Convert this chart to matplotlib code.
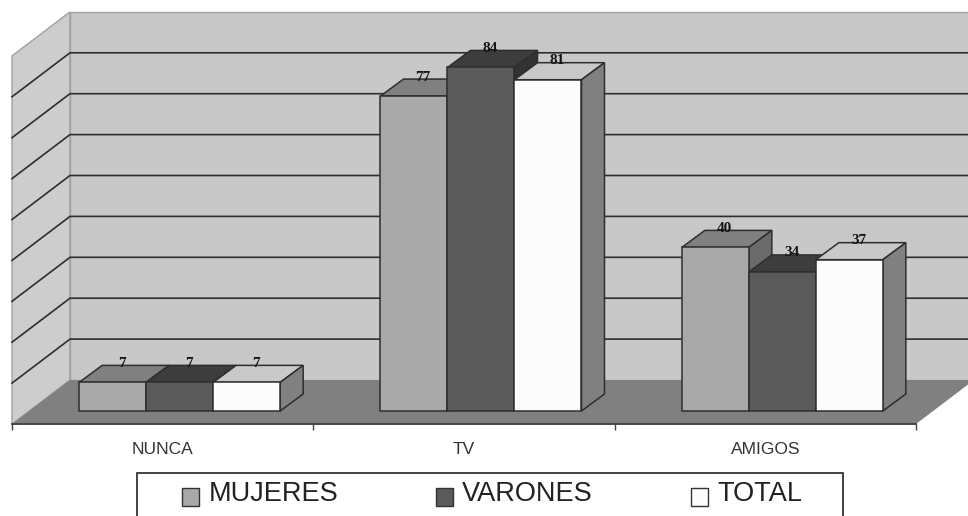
import numpy as np
import matplotlib
matplotlib.use('Agg')
import matplotlib.pyplot as plt
from matplotlib.patches import Patch, Polygon, Rectangle

categories = ['NUNCA', 'TV', 'AMIGOS']
mujeres = [7, 77, 40]
varones = [7, 84, 34]
total = [7, 81, 37]
series_names = ['MUJERES', 'VARONES', 'TOTAL']
grid_values = [10, 20, 30, 40, 50, 60, 70, 80]
y_max = 90

# (front, top, side) greys for each series
shades = [('#a9a9a9', '#808080', '#6b6b6b'),
          ('#5a5a5a', '#3d3d3d', '#333333'),
          ('#fcfcfc', '#c9c9c9', '#808080')]

# scale of the picture: pixels per category and per unit of value
px_x = 301.33
px_y = 4.09
wall_dx = 58 / px_x
wall_dy = 44 / px_y
floor_dx = 17 / px_x
floor_dy = 13 / px_y
bar_dx = 23 / px_x
bar_dy = 17 / px_y
bar_w = 67 / px_x
line_c = '#2e2e2e'

plt.rcParams['font.family'] = ['Liberation Sans', 'DejaVu Sans']
fig = plt.figure(figsize=(9.68, 5.16), dpi=100)
ax = fig.add_axes([0, 0, 1, 1])
ax.set_xlim(-12 / px_x, 956 / px_x)
ax.set_ylim(-92 / px_y, 424 / px_y)
n = len(categories)

# walls and floor
ax.add_patch(Polygon([(0, 0), (wall_dx, wall_dy), (wall_dx, y_max + wall_dy), (0, y_max)],
                     fc='#cdcdcd', ec='#a0a0a0', lw=1, zorder=1))
ax.add_patch(Polygon([(wall_dx, wall_dy), (n + wall_dx, wall_dy),
                      (n + wall_dx, y_max + wall_dy), (wall_dx, y_max + wall_dy)],
                     fc='#c8c8c8', ec='#a0a0a0', lw=1, zorder=1))
ax.add_patch(Polygon([(0, 0), (n, 0), (n + wall_dx, wall_dy), (wall_dx, wall_dy)],
                     fc='#808080', ec='none', zorder=2))
for v in grid_values:
    ax.plot([0, wall_dx, n + wall_dx], [v, v + wall_dy, v + wall_dy],
            color=line_c, lw=1.2, zorder=1.5)

# 3d bars, painted left to right
series = [mujeres, varones, total]
for i in range(n):
    left = i + 0.5 - 1.5 * bar_w + floor_dx
    for j, values in enumerate(series):
        v = values[i]
        x0 = left + j * bar_w
        x1 = x0 + bar_w
        y0 = floor_dy
        y1 = floor_dy + v
        front, top, side = shades[j]
        z = 3 + j
        ax.add_patch(Polygon([(x0, y1), (x1, y1), (x1 + bar_dx, y1 + bar_dy), (x0 + bar_dx, y1 + bar_dy)],
                             fc=top, ec=line_c, lw=1.1, zorder=z))
        ax.add_patch(Polygon([(x1, y0), (x1 + bar_dx, y0 + bar_dy), (x1 + bar_dx, y1 + bar_dy), (x1, y1)],
                             fc=side, ec=line_c, lw=1.1, zorder=z))
        ax.add_patch(Polygon([(x0, y0), (x1, y0), (x1, y1), (x0, y1)],
                             fc=front, ec=line_c, lw=1.1, zorder=z + 0.5))
        ax.text(x0 + bar_w / 2 + bar_dx * 0.4, y1 + bar_dy + 0.5, str(v),
                family='Liberation Serif', fontweight='bold', fontsize=11, color='#151515',
                ha='center', va='center', zorder=10)

# category axis
for name in ['top', 'left', 'right']:
    ax.spines[name].set_visible(False)
ax.spines['bottom'].set_position(('data', 0))
ax.spines['bottom'].set_bounds(0, n)
ax.spines['bottom'].set_color('#444444')
ax.spines['bottom'].set_linewidth(1.4)
ax.spines['bottom'].set_zorder(12)
ax.set_yticks([])
ax.set_xticks(np.arange(n + 1))
ax.set_xticklabels([])
ax.tick_params(axis='x', which='major', length=4, width=1, color='#444444')
ax.set_xticks(np.arange(n) + 0.5, minor=True)
ax.set_xticklabels(categories, minor=True, fontsize=12.5, color='#333333')
ax.tick_params(axis='x', which='minor', length=0, pad=13)
ax.patch.set_visible(False)

# legend frame runs off the bottom of the picture, entries sit inside it
ax.add_patch(Rectangle((137 / 968, -0.02), 706 / 968, 1 - 473 / 516 + 0.02, transform=ax.transAxes,
                       fc='white', ec='#222222', lw=1.2, zorder=13))
handles = [Patch(fc=shades[j][0], ec='#333333', lw=1) for j in range(3)]
leg = ax.legend(handles, series_names, ncols=3, loc='upper left', mode='expand',
                bbox_to_anchor=(182 / 968, 1 - 481 / 516, 620 / 968, 0), borderaxespad=0,
                fontsize=19.5, frameon=False, handlelength=0.62, handleheight=0.62,
                handletextpad=0.35, borderpad=0, columnspacing=1.0, labelcolor='#222222')
leg.set_zorder(14)
for h in leg.legend_handles:
    h.set_y(h.get_y() - 4)

fig.savefig('out.png', dpi=100)
